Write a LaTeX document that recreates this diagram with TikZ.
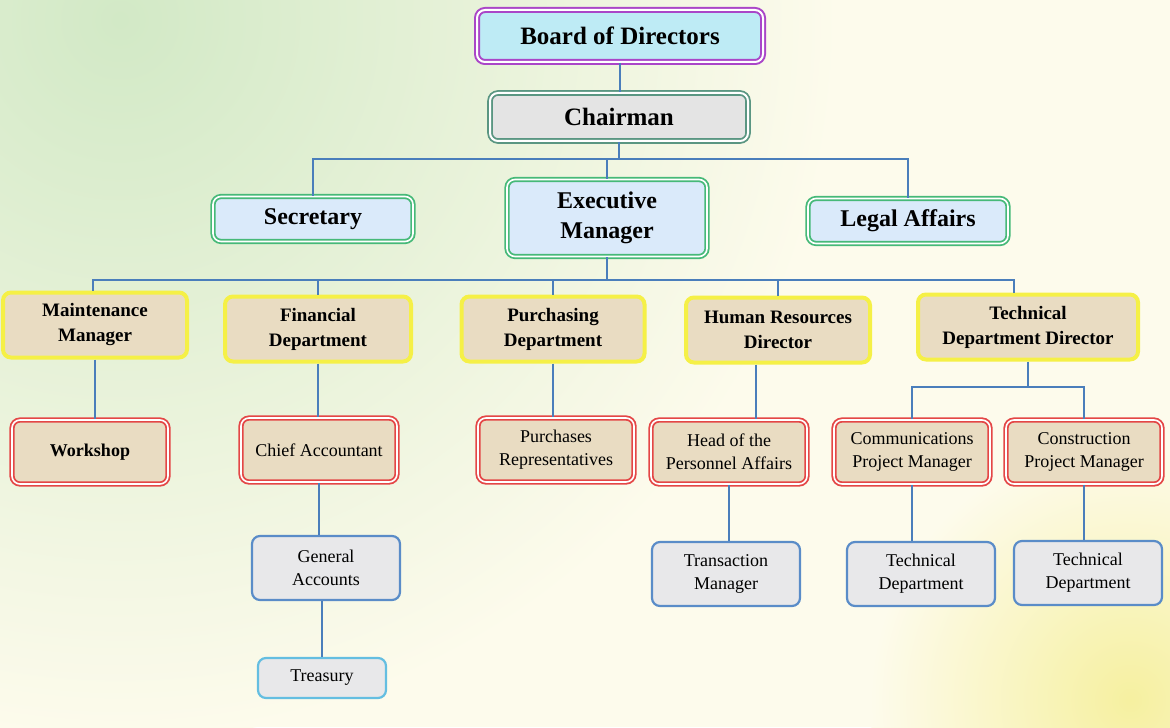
\documentclass[tikz,border=0pt]{standalone}
\usepackage{fontspec}
\setmainfont{Liberation Serif}
\usetikzlibrary{positioning}

\definecolor{paper}{RGB}{253,251,236}
\definecolor{haze}{RGB}{210,233,198}
\definecolor{sun}{RGB}{246,240,160}
\definecolor{wire}{RGB}{74,126,187}
\definecolor{boardline}{RGB}{170,70,200}
\definecolor{boardfill}{RGB}{190,235,245}
\definecolor{chairline}{RGB}{90,150,130}
\definecolor{chairfill}{RGB}{228,228,228}
\definecolor{greenline}{RGB}{70,185,120}
\definecolor{bluefill}{RGB}{218,234,250}
\definecolor{yellowline}{RGB}{245,240,70}
\definecolor{tan}{RGB}{233,220,194}
\definecolor{redline}{RGB}{228,70,70}
\definecolor{steelline}{RGB}{90,140,200}
\definecolor{greyfill}{RGB}{232,232,234}
\definecolor{cyanline}{RGB}{100,190,225}

\tikzstyle{orgbox} = [rectangle, rounded corners=4pt, align=center, inner sep=2pt]
\tikzstyle{boardbox} = [orgbox, draw=boardline, double=white, double distance=1pt,
    line width=1pt, fill=boardfill, font=\bfseries\fontsize{12.5}{15}\selectfont]
\tikzstyle{chairbox} = [orgbox, draw=chairline, double=white, double distance=1pt,
    line width=0.9pt, fill=chairfill, font=\bfseries\fontsize{12.5}{15}\selectfont]
\tikzstyle{headbox} = [orgbox, draw=greenline, double=white, double distance=0.8pt,
    line width=0.9pt, fill=bluefill, font=\bfseries\fontsize{12}{15}\selectfont,
    minimum width=100pt]
\tikzstyle{deptbox} = [orgbox, draw=yellowline, line width=2pt, fill=tan,
    font=\bfseries\fontsize{9.5}{12.5}\selectfont, minimum height=32.5pt]
\tikzstyle{unitbox} = [orgbox, draw=redline, double=white, double distance=0.8pt,
    line width=0.9pt, fill=tan, font=\fontsize{9}{11.5}\selectfont,
    minimum width=78pt, minimum height=32pt]
\tikzstyle{staffbox} = [orgbox, draw=steelline, line width=1.1pt, fill=greyfill,
    font=\fontsize{9}{11.5}\selectfont, minimum width=74pt, minimum height=32pt]
\tikzstyle{wireline} = [draw=wire, line width=1.2pt]

\begin{document}
\begin{tikzpicture}[x=0.5pt, y=-0.5pt]
%------------ Hintergrund ---------------------
\fill[paper] (0,0) rectangle (1170,727);
\begin{scope}
    \clip (0,0) rectangle (1170,727);
    \shade[inner color=haze, outer color=paper] (120,20) circle (720);
    \shade[inner color=sun, outer color=paper] (1130,700) circle (260);
\end{scope}
\useasboundingbox (0,0) rectangle (1170,727);

%------------ Leitung ---------------------
\node[boardbox, minimum width=143pt, minimum height=26pt] (board) at (620,36) {Board of Directors};
\node[chairbox, minimum width=129pt, minimum height=24pt] (chair) at (619,117) {Chairman};

%------------ Stab und Geschaeftsfuehrung ---------------------
\node[headbox, minimum height=22.5pt] (secr) at (313,219) {Secretary};
\node[headbox, minimum height=38.5pt] (exec) at (607,218) {Executive\\Manager};
\node[headbox, minimum height=22.5pt] (legal) at (908,221) {Legal Affairs};

%------------ Abteilungen ---------------------
\node[deptbox, minimum width=92pt] (maint) at (95,325) {Maintenance\\Manager};
\node[deptbox, minimum width=93pt] (fin) at (318,329) {Financial\\Department};
\node[deptbox, minimum width=91.5pt] (purch) at (553,329) {Purchasing\\Department};
\node[deptbox, minimum width=92pt] (hr) at (778,330) {Human Resources\\Director};
\node[deptbox, minimum width=110pt] (tech) at (1028,327) {Technical\\Department Director};

%------------ Einheiten ---------------------
\node[unitbox, font=\bfseries\fontsize{9}{11.5}\selectfont] (work) at (90,452) {Workshop};
\node[unitbox] (chief) at (319,450) {Chief Accountant};
\node[unitbox] (preps) at (556,450) {Purchases\\Representatives};
\node[unitbox] (head) at (729,452) {Head of the\\Personnel Affairs};
\node[unitbox] (comm) at (912,452) {Communications\\Project Manager};
\node[unitbox] (cons) at (1084,452) {Construction\\Project Manager};

%------------ Mitarbeiter ---------------------
\node[staffbox] (genacc) at (326,568) {General\\Accounts};
\node[staffbox] (trans) at (726,574) {Transaction\\Manager};
\node[staffbox] (techA) at (921,574) {Technical\\Department};
\node[staffbox] (techB) at (1088,573) {Technical\\Department};
\node[staffbox, draw=cyanline, minimum width=64pt, minimum height=20pt] (treas) at (322,678) {Treasury};

%------------ Verbindungen ---------------------
\coordinate (busA) at (612,159);
\coordinate (busB) at (612,280);
\coordinate (busC) at (1030,387);
\draw[wireline] (board.south) -- (board.south |- chair.north);
\draw[wireline] (chair.south) -- (chair.south |- busA);
\draw[wireline] (secr.north) |- (busA) -| (legal.north);
\draw[wireline] (exec.north) -- (exec.north |- busA);
\draw[wireline] (exec.south) -- (exec.south |- busB);
\draw[wireline] ([xshift=-1pt]maint.north) |- (busB) -| ([xshift=-7pt]tech.north);
\foreach \n in {fin, purch, hr}
    \draw[wireline] (\n.north) -- (\n.north |- busB);
\foreach \a/\b in {maint/work, fin/chief, purch/preps, chief/genacc, head/trans, comm/techA, cons/techB}
    \draw[wireline] (\a.south) -- (\a.south |- \b.north);
\draw[wireline] (treas.north |- genacc.south) -- (treas.north);
\draw[wireline] ([xshift=-11pt]hr.south) -- ([xshift=-11pt]hr.south |- head.north);
\draw[wireline] (tech.south) -- (tech.south |- busC);
\draw[wireline] (comm.north) |- (busC) -| (cons.north);
\end{tikzpicture}
\end{document}
